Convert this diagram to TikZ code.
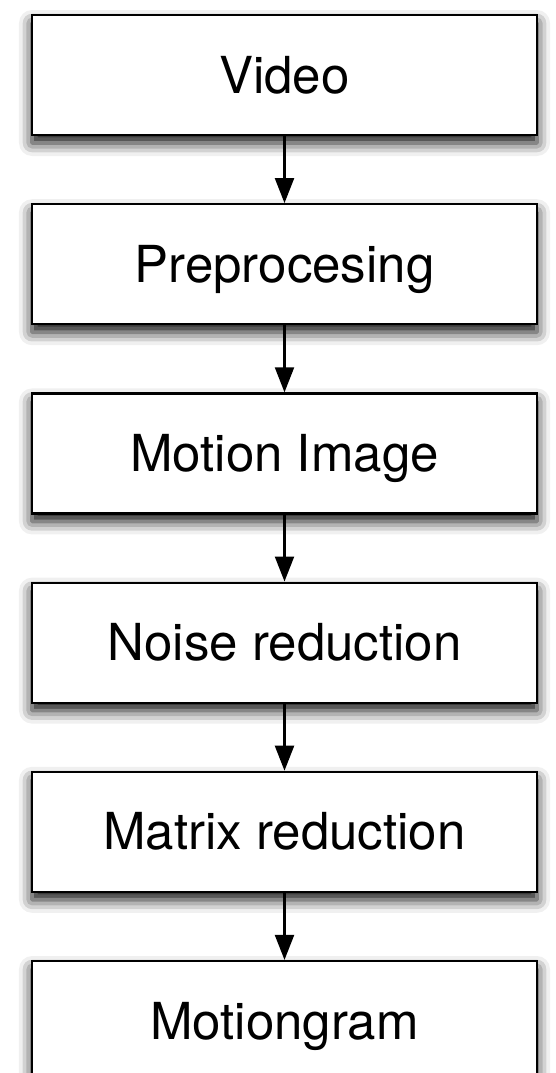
\documentclass[tikz,border=0pt]{standalone}
\usepackage{fontspec}
\setmainfont{TeX Gyre Heros}
\usetikzlibrary{arrows.meta,shadows.blur}
\begin{document}
\begin{tikzpicture}[x=1pt, y=1pt,
    stage/.style={draw, line width=2.2pt, fill=white, minimum width=505pt, minimum height=120pt,
        inner sep=0pt, text height=36pt, text depth=0pt, font=\fontsize{51}{57}\selectfont,
        blur shadow={shadow xshift=0pt, shadow yshift=-8pt, shadow blur radius=13pt, shadow opacity=95}},
    flow/.style={line width=2.2pt, -{Triangle[length=25pt, width=19pt]}}]
    \clip (0,0) rectangle (556,-1073);
    \node[stage] (video) at (284.5,-75) {Video};
    \node[stage] (prep) at (284.5,-264.2) {Preprocesing};
    \node[stage] (motion) at (284.5,-453.4) {Motion Image};
    \node[stage] (noise) at (284.5,-642.6) {Noise reduction};
    \node[stage] (matrix) at (284.5,-831.8) {Matrix reduction};
    \node[stage] (gram) at (284.5,-1021) {Motiongram};
    \path (video) edge[flow] (prep);
    \path (prep) edge[flow] (motion);
    \path (motion) edge[flow] (noise);
    \path (noise) edge[flow] (matrix);
    \path (matrix) edge[flow] (gram);
\end{tikzpicture}
\end{document}
